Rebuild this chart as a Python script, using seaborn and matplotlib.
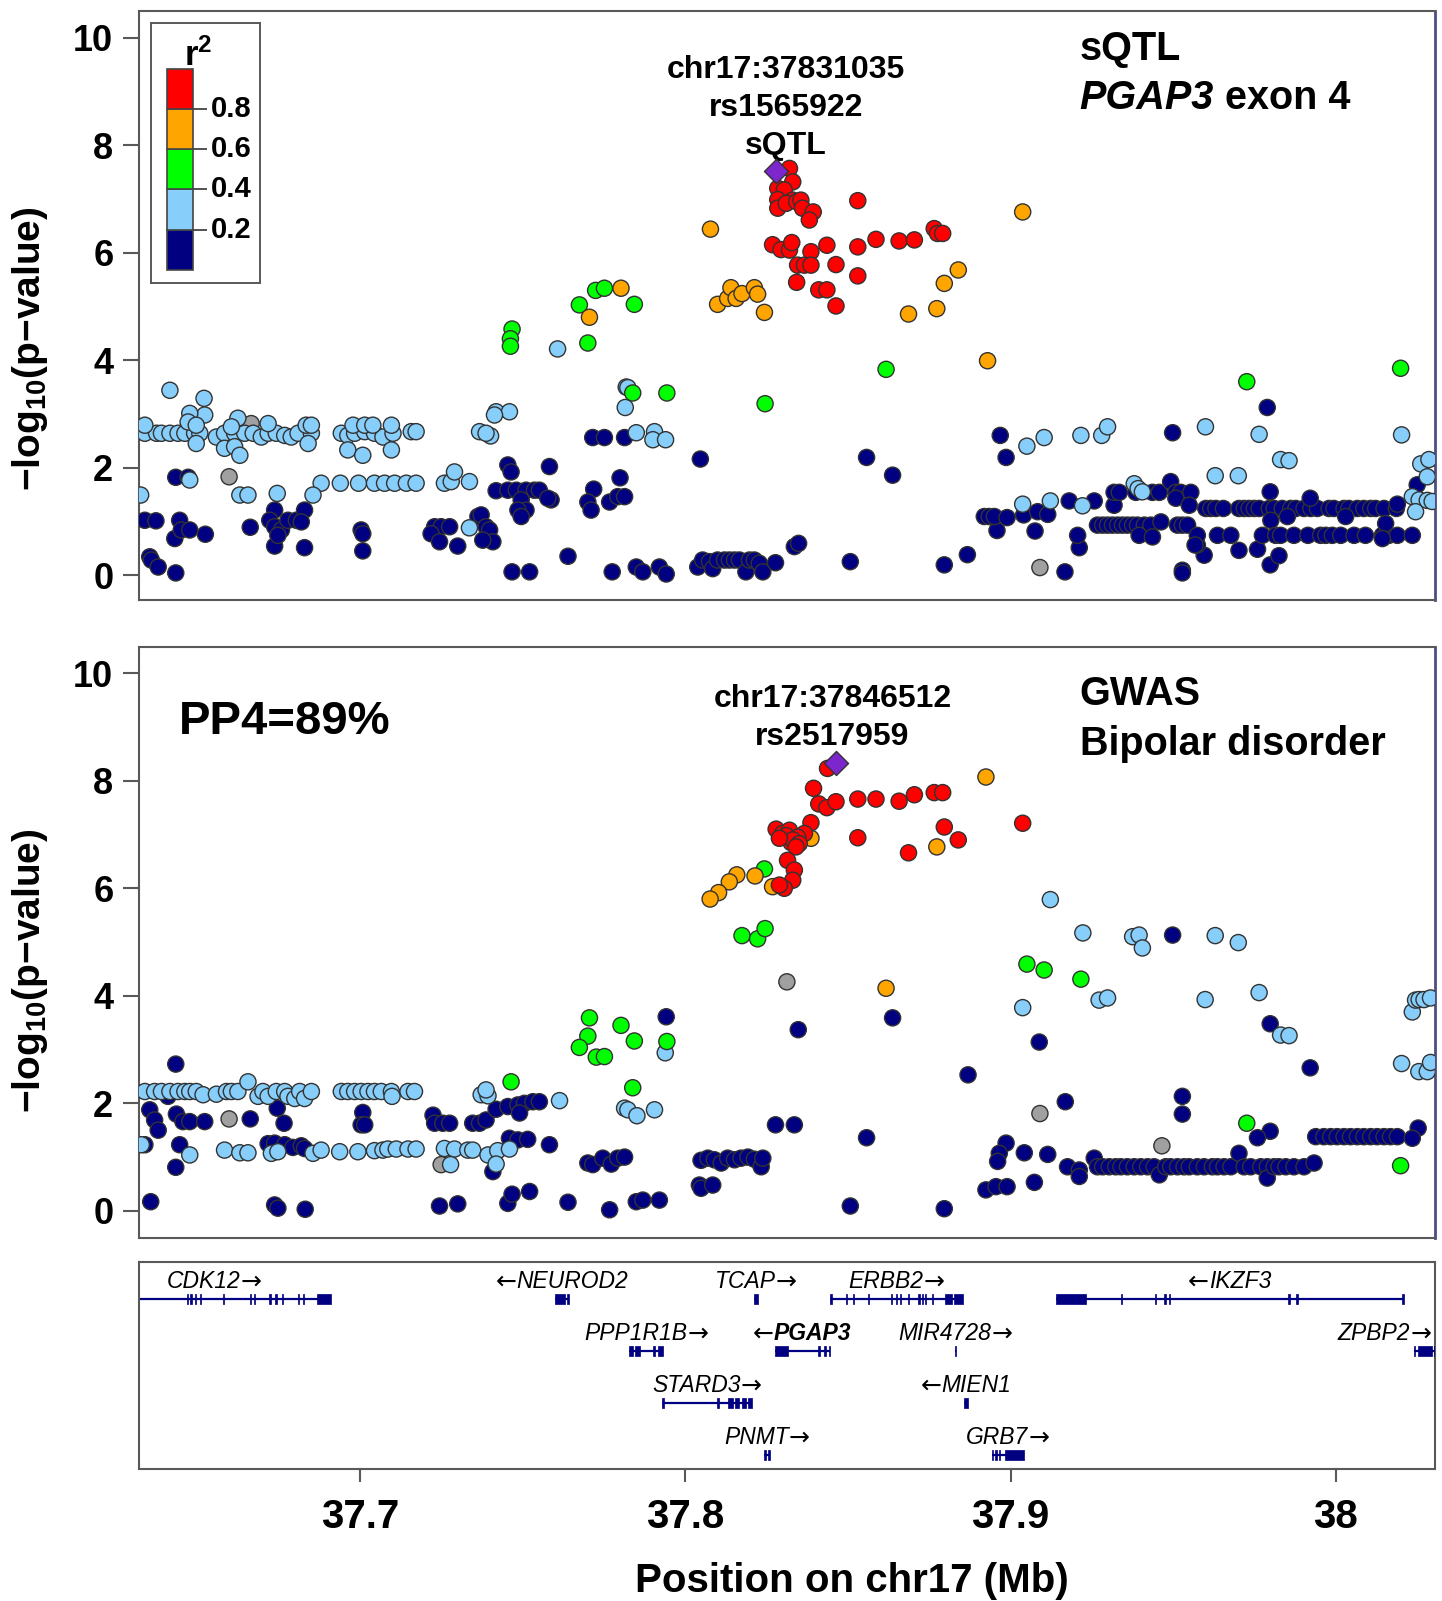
import matplotlib
matplotlib.use("Agg")
import matplotlib.pyplot as plt
from matplotlib.transforms import Bbox
import seaborn as sns
import pandas as pd

# LD classes and colours (LocusZoom style)
ld_classes = ["NA", "0.0-0.2", "0.2-0.4", "0.4-0.6", "0.6-0.8", "0.8-1.0"]
ld_colors = ["#A0A0A0", "#000080", "#87CEFA", "#00FF00", "#FFA500", "#FF0000"]
r2_edges = [0.0, 0.2, 0.4, 0.6, 0.8, 1.0]

# ---------------- sQTL panel (position Mb, -log10 p) ----------------
sqtl_gray = [(37.6665, 2.82), (37.6597, 1.83), (37.9090, 0.14)]

sqtl_navy = [
    (37.6433, 1.82), (37.6471, 1.82), (37.6338, 1.02), (37.6372, 1.01), (37.6445, 1.02), (37.6430, 0.68),
    (37.6450, 0.84), (37.6476, 0.84), (37.6524, 0.76), (37.6353, 0.34), (37.6358, 0.28), (37.6379, 0.15),
    (37.6433, 0.04), (37.6662, 0.89), (37.6737, 1.21), (37.6722, 1.02), (37.6737, 0.90), (37.6758, 0.84),
    (37.6778, 1.02), (37.6804, 1.02), (37.6829, 1.21), (37.6819, 0.99), (37.6737, 0.54), (37.6829, 0.51),
    (37.6747, 0.74), (37.7003, 0.84), (37.7008, 0.77), (37.7008, 0.45), (37.7229, 0.90), (37.7249, 0.90),
    (37.7275, 0.90), (37.7218, 0.77), (37.7244, 0.62), (37.7300, 0.54), (37.7362, 1.09), (37.7372, 1.12),
    (37.7387, 0.90), (37.7398, 0.84), (37.7408, 0.62), (37.7377, 0.65), (37.7454, 2.05), (37.7464, 1.92),
    (37.7582, 2.02), (37.7418, 1.57), (37.7454, 1.58), (37.7480, 1.58), (37.7510, 1.58), (37.7536, 1.58),
    (37.7551, 1.58), (37.7587, 1.40), (37.7577, 1.43), (37.7495, 1.40), (37.7510, 1.21), (37.7485, 1.21),
    (37.7495, 1.09), (37.7467, 0.06), (37.7521, 0.06),
    (37.7715, 2.56), (37.7751, 2.56), (37.7813, 2.56), (37.8046, 2.16), (37.8557, 2.19), (37.8637, 1.86),
    (37.7799, 1.81), (37.7718, 1.60), (37.7700, 1.36), (37.7710, 1.21), (37.7767, 1.36), (37.7792, 1.46),
    (37.7813, 1.46), (37.7639, 0.35), (37.7775, 0.06), (37.7849, 0.15), (37.7869, 0.06), (37.7920, 0.15),
    (37.7941, 0.02), (37.8038, 0.15), (37.8053, 0.28), (37.8074, 0.25), (37.8084, 0.12), (37.8099, 0.28),
    (37.8120, 0.28), (37.8135, 0.28), (37.8151, 0.28), (37.8166, 0.28), (37.8186, 0.06), (37.8197, 0.28),
    (37.8212, 0.28), (37.8227, 0.22), (37.8238, 0.06), (37.8277, 0.23), (37.8335, 0.53), (37.8348, 0.59),
    (37.8507, 0.25), (37.8796, 0.19), (37.8867, 0.38),
    (37.8968, 2.60), (37.8986, 2.19), (37.9789, 3.12), (37.9498, 2.65), (37.9167, 0.06), (37.9528, 0.09),
    (37.9528, 0.04), (37.9798, 0.19), (37.9825, 0.36), (37.9702, 0.46), (37.9759, 0.48), (37.9595, 0.37),
    (37.9574, 0.56), (37.9211, 0.51), (37.9206, 0.74), (37.9075, 0.82), (37.8958, 0.83),
    (37.8919, 1.09), (37.8934, 1.09), (37.8950, 1.09), (37.8989, 1.07), (37.9040, 1.12), (37.9083, 1.18),
    (37.9114, 1.13), (37.9180, 1.38), (37.9257, 1.38), (37.9318, 1.30),
    (37.9318, 1.54), (37.9334, 1.54), (37.9385, 1.54), (37.9436, 1.54), (37.9457, 1.54), (37.9492, 1.74),
    (37.9508, 1.54), (37.9523, 1.54), (37.9554, 1.54), (37.9508, 1.43), (37.9549, 1.30),
    (37.9267, 0.93), (37.9283, 0.93), (37.9298, 0.93), (37.9313, 0.93), (37.9329, 0.93), (37.9344, 0.93),
    (37.9359, 0.93), (37.9375, 0.93), (37.9390, 0.93), (37.9411, 0.93), (37.9431, 0.93), (37.9462, 0.99),
    (37.9513, 0.93), (37.9528, 0.93), (37.9544, 0.93), (37.9395, 0.74), (37.9436, 0.71), (37.9574, 0.74),
    (37.9567, 0.56),
    (37.9600, 1.24), (37.9615, 1.24), (37.9631, 1.24), (37.9654, 1.24), (37.9702, 1.24), (37.9718, 1.24),
    (37.9733, 1.24), (37.9749, 1.24), (37.9764, 1.24), (37.9795, 1.24), (37.9810, 1.24), (37.9835, 1.24),
    (37.9861, 1.24), (37.9877, 1.24), (37.9902, 1.24), (37.9923, 1.24), (37.9943, 1.24), (37.9979, 1.24),
    (37.9994, 1.24), (38.0025, 1.24), (38.0040, 1.24), (38.0066, 1.24), (38.0086, 1.24), (38.0107, 1.24),
    (38.0122, 1.24), (38.0148, 1.24), (38.0186, 1.24), (37.9798, 1.55), (37.9921, 1.43), (37.9851, 1.09),
    (38.0030, 1.09), (37.9800, 1.02), (38.0189, 1.32), (38.0250, 1.68),
    (37.9636, 0.74), (37.9677, 0.74), (37.9774, 0.74), (37.9815, 0.74), (37.9830, 0.74), (37.9871, 0.74),
    (37.9914, 0.74), (37.9953, 0.74), (37.9969, 0.74), (37.9989, 0.74), (38.0015, 0.74), (38.0056, 0.74),
    (38.0091, 0.74), (38.0143, 0.74), (38.0163, 0.74), (38.0189, 0.74), (38.0235, 0.74), (38.0153, 0.96),
    (38.0143, 0.68),
]

sqtl_lightblue = [
    (37.6338, 2.64), (37.6374, 2.64), (37.6389, 2.64), (37.6415, 2.64), (37.6440, 2.64), (37.6461, 2.64),
    (37.6491, 2.64), (37.6507, 2.64), (37.6558, 2.57), (37.6583, 2.64), (37.6614, 2.64), (37.6645, 2.64),
    (37.6671, 2.64), (37.6696, 2.57), (37.6717, 2.64), (37.6742, 2.64), (37.6768, 2.60), (37.6788, 2.57),
    (37.6809, 2.64), (37.6850, 2.64), (37.6942, 2.64), (37.6962, 2.60), (37.6983, 2.64), (37.7014, 2.67),
    (37.7044, 2.64), (37.7070, 2.57), (37.7101, 2.64), (37.7157, 2.67), (37.7172, 2.67),
    (37.6338, 2.79), (37.6415, 3.44), (37.6520, 3.29), (37.6522, 2.98), (37.6476, 3.01), (37.6471, 2.85),
    (37.6496, 2.79), (37.6624, 2.92), (37.6604, 2.76), (37.6717, 2.82), (37.6834, 2.79), (37.6850, 2.79),
    (37.6978, 2.79), (37.7014, 2.79), (37.7039, 2.79), (37.7096, 2.79),
    (37.6496, 2.45), (37.6583, 2.36), (37.6614, 2.39), (37.6630, 2.23), (37.6840, 2.45), (37.6962, 2.33),
    (37.7008, 2.23), (37.7096, 2.33),
    (37.6880, 1.71), (37.6939, 1.71), (37.6995, 1.71), (37.7044, 1.71), (37.7075, 1.71), (37.7106, 1.71),
    (37.7142, 1.71), (37.7172, 1.71), (37.7259, 1.71), (37.7280, 1.74), (37.7290, 1.92), (37.7336, 1.74),
    (37.6855, 1.49), (37.6745, 1.52), (37.6630, 1.49), (37.6655, 1.49), (37.6325, 1.49), (37.6476, 1.77),
    (37.7336, 0.88), (37.7607, 4.21), (37.7418, 3.04), (37.7459, 3.04), (37.7413, 2.98), (37.7367, 2.67),
    (37.7401, 2.59), (37.7387, 2.64),
    (37.7818, 3.50), (37.7823, 3.49), (37.7815, 3.12), (37.7849, 2.65), (37.7905, 2.67), (37.7900, 2.52),
    (37.7939, 2.52),
    (37.9050, 2.40), (37.9103, 2.56), (37.9216, 2.60), (37.9280, 2.60), (37.9298, 2.76), (37.9599, 2.76),
    (37.9764, 2.62), (38.0202, 2.61), (37.9830, 2.15), (37.9856, 2.13), (37.9629, 1.85), (37.9700, 1.85),
    (37.9380, 1.70), (37.9392, 1.61), (37.9405, 1.55), (37.9037, 1.32), (37.9122, 1.38), (37.9221, 1.29),
    (38.0261, 2.07), (38.0286, 2.15), (38.0281, 1.83), (38.0235, 1.46), (38.0256, 1.40), (38.0281, 1.39),
    (38.0245, 1.18), (38.0296, 1.37),
]

sqtl_green = [
    (37.7467, 4.58), (37.7462, 4.40), (37.7462, 4.26), (37.7674, 5.03), (37.7724, 5.30), (37.7751, 5.34),
    (37.7843, 5.04), (37.7700, 4.32), (37.7838, 3.39), (37.7943, 3.39), (37.8245, 3.19), (37.8617, 3.83),
    (37.9726, 3.60), (38.0199, 3.85),
]

sqtl_orange = [
    (37.8077, 6.44), (37.8099, 5.04), (37.8130, 5.15), (37.8140, 5.35), (37.8156, 5.15), (37.8174, 5.24),
    (37.8212, 5.35), (37.8222, 5.23), (37.8243, 4.89), (37.8686, 4.86), (37.8773, 4.96), (37.8796, 5.43),
    (37.8839, 5.68), (37.8929, 3.99), (37.7802, 5.34), (37.7705, 4.80), (37.9037, 6.76),
]

sqtl_red = [
    (37.8320, 7.57), (37.8330, 7.32), (37.8284, 7.20), (37.8304, 7.17), (37.8284, 6.99), (37.8284, 6.83),
    (37.8330, 6.98), (37.8310, 6.92), (37.8342, 6.95), (37.8355, 6.98), (37.8360, 6.83), (37.8393, 6.76),
    (37.8381, 6.61), (37.8530, 6.97),
    (37.8268, 6.15), (37.8294, 6.06), (37.8320, 6.05), (37.8327, 6.19), (37.8386, 6.02), (37.8435, 6.14),
    (37.8530, 6.11), (37.8586, 6.25), (37.8657, 6.22), (37.8704, 6.24), (37.8765, 6.45), (37.8775, 6.36),
    (37.8791, 6.36), (37.8345, 5.77), (37.8366, 5.77), (37.8386, 5.77), (37.8463, 5.78), (37.8342, 5.45),
    (37.8530, 5.57), (37.8410, 5.31), (37.8435, 5.31), (37.8463, 5.01),
]

sqtl_lead_pos, sqtl_lead_logp = 37.8279, 7.53

# ---------------- GWAS panel ----------------
gwas_gray = [(37.6597, 1.71), (37.7249, 0.86), (37.8312, 4.26), (37.9090, 1.81), (37.9465, 1.21)]

gwas_navy = [
    (37.6433, 2.73), (37.6409, 2.13), (37.6353, 1.88), (37.6368, 1.69), (37.6379, 1.50), (37.6435, 1.80),
    (37.6455, 1.66), (37.6476, 1.66), (37.6522, 1.66), (37.6662, 1.71), (37.6745, 1.91), (37.6766, 1.63),
    (37.7008, 1.83), (37.7003, 1.60), (37.7014, 1.60), (37.7224, 1.78), (37.7229, 1.63), (37.7254, 1.63),
    (37.7275, 1.63), (37.7346, 1.63), (37.7367, 1.63), (37.7387, 1.69), (37.7418, 1.89), (37.7454, 1.94),
    (37.7485, 1.97), (37.7505, 2.00), (37.7531, 2.03), (37.7551, 2.03), (37.7490, 1.82),
    (37.6338, 1.23), (37.6445, 1.23), (37.6717, 1.25), (37.6737, 1.26), (37.6768, 1.23), (37.6793, 1.18),
    (37.6819, 1.21), (37.6829, 1.16), (37.7459, 1.35), (37.7485, 1.32), (37.7515, 1.33), (37.7582, 1.23),
    (37.6433, 0.81), (37.7408, 0.73), (37.6356, 0.17), (37.6737, 0.11), (37.6747, 0.05), (37.6831, 0.03),
    (37.7244, 0.09), (37.7300, 0.13), (37.7454, 0.14), (37.7467, 0.31), (37.7521, 0.36),
    (37.7941, 3.61), (37.8347, 3.37), (37.8637, 3.59), (37.8869, 2.53), (37.8277, 1.60), (37.8335, 1.60),
    (37.8557, 1.36), (37.7700, 0.89), (37.7715, 0.86), (37.7746, 0.98), (37.7772, 0.87), (37.7792, 0.98),
    (37.7813, 1.00), (37.8048, 0.94), (37.8069, 0.98), (37.8089, 0.95), (37.8110, 0.89), (37.8130, 0.98),
    (37.8151, 0.95), (37.8171, 0.98), (37.8192, 1.00), (37.8212, 0.96), (37.8233, 0.82), (37.8238, 0.98),
    (37.8043, 0.48), (37.8048, 0.42), (37.8084, 0.48), (37.7639, 0.16), (37.7767, 0.02), (37.7849, 0.17),
    (37.7869, 0.20), (37.7920, 0.20), (37.8507, 0.09), (37.8796, 0.04), (37.8924, 0.39),
    (37.9498, 5.13), (37.9088, 3.14), (37.9798, 3.48), (37.9921, 2.66), (37.9168, 2.03), (37.9528, 2.13),
    (37.9528, 1.80), (37.9798, 1.48), (37.9759, 1.36), (38.0253, 1.54), (37.8986, 1.26), (37.8965, 1.07),
    (37.8960, 0.92), (37.9042, 1.08), (37.9114, 1.05), (37.9073, 0.53), (37.8955, 0.45), (37.8989, 0.45),
    (37.9175, 0.82), (37.9211, 0.76), (37.9211, 0.64), (37.9257, 0.98), (37.9267, 0.82), (37.9283, 0.82),
    (37.9303, 0.82), (37.9323, 0.82), (37.9339, 0.82), (37.9359, 0.82), (37.9380, 0.82), (37.9400, 0.82),
    (37.9421, 0.82), (37.9441, 0.82), (37.9457, 0.67), (37.9477, 0.82), (37.9492, 0.82), (37.9513, 0.82),
    (37.9533, 0.82), (37.9549, 0.82), (37.9574, 0.82), (37.9595, 0.82), (37.9620, 0.82), (37.9636, 0.82),
    (37.9656, 0.82), (37.9677, 0.82), (37.9702, 1.07), (37.9718, 0.82), (37.9738, 0.82), (37.9769, 0.82),
    (37.9789, 0.82), (37.9789, 0.61), (37.9810, 0.82), (37.9825, 0.82), (37.9846, 0.82), (37.9871, 0.82),
    (37.9902, 0.82), (37.9933, 0.89),
    (37.9938, 1.38), (37.9963, 1.38), (37.9984, 1.38), (38.0004, 1.38), (38.0025, 1.38), (38.0045, 1.38),
    (38.0066, 1.38), (38.0086, 1.38), (38.0107, 1.38), (38.0127, 1.38), (38.0148, 1.38), (38.0168, 1.38),
    (38.0189, 1.38), (38.0235, 1.35),
]

gwas_lightblue = [
    (37.6338, 2.22), (37.6368, 2.22), (37.6389, 2.22), (37.6415, 2.22), (37.6440, 2.22), (37.6461, 2.22),
    (37.6476, 2.22), (37.6496, 2.22), (37.6517, 2.16), (37.6558, 2.17), (37.6589, 2.22), (37.6604, 2.22),
    (37.6624, 2.22), (37.6655, 2.40), (37.6686, 2.13), (37.6701, 2.22), (37.6717, 2.13), (37.6742, 2.22),
    (37.6768, 2.22), (37.6778, 2.13), (37.6799, 2.09), (37.6814, 2.22), (37.6829, 2.09), (37.6850, 2.22),
    (37.6942, 2.22), (37.6962, 2.22), (37.6983, 2.22), (37.7003, 2.22), (37.7024, 2.22), (37.7044, 2.22),
    (37.7065, 2.22), (37.7096, 2.22), (37.7098, 2.13), (37.7147, 2.22), (37.7167, 2.22), (37.7372, 2.16),
    (37.7393, 2.14), (37.7387, 2.25), (37.7613, 2.05),
    (37.6327, 1.23), (37.6476, 1.04), (37.6583, 1.13), (37.6630, 1.08), (37.6655, 1.08), (37.6727, 1.07),
    (37.6747, 1.10), (37.6855, 1.07), (37.6880, 1.13), (37.6937, 1.10), (37.6993, 1.10), (37.7044, 1.12),
    (37.7070, 1.13), (37.7085, 1.15), (37.7111, 1.15), (37.7147, 1.15), (37.7172, 1.15), (37.7259, 1.16),
    (37.7290, 1.15), (37.7331, 1.13), (37.7346, 1.13), (37.7393, 1.04), (37.7423, 1.12), (37.7459, 1.15),
    (37.7278, 0.86), (37.7418, 0.87),
    (37.7938, 2.94), (37.7813, 1.91), (37.7823, 1.88), (37.7851, 1.77), (37.7905, 1.88),
    (37.9122, 5.79), (37.9222, 5.17), (37.9375, 5.10), (37.9395, 5.13), (37.9405, 4.89), (37.9629, 5.12),
    (37.9700, 4.99), (37.9037, 3.78), (37.9272, 3.92), (37.9298, 3.96), (37.9598, 3.93), (37.9764, 4.06),
    (37.9830, 3.27), (37.9856, 3.26), (38.0235, 3.70), (38.0245, 3.92), (38.0256, 3.93), (38.0271, 3.93),
    (38.0291, 3.96), (38.0202, 2.74), (38.0255, 2.59), (38.0281, 2.59), (38.0291, 2.76),
]

gwas_green = [
    (37.7464, 2.40), (37.8243, 6.36), (37.8174, 5.12), (37.8222, 5.06), (37.8245, 5.25), (37.7705, 3.59),
    (37.7700, 3.25), (37.7674, 3.04), (37.7726, 2.86), (37.7751, 2.87), (37.7802, 3.45), (37.7843, 3.16),
    (37.7943, 3.15), (37.7838, 2.29), (37.9050, 4.59), (37.9103, 4.48), (37.9216, 4.31), (37.9726, 1.63),
    (38.0199, 0.84),
]

gwas_orange = [
    (37.8924, 8.07), (37.8773, 6.77), (37.8617, 4.14), (37.8386, 6.93), (37.8268, 6.03), (37.8214, 6.23),
    (37.8158, 6.25), (37.8135, 6.12), (37.8102, 5.92), (37.8076, 5.80),
]

gwas_red = [
    (37.8437, 8.23), (37.8394, 7.86), (37.8410, 7.57), (37.8435, 7.50), (37.8463, 7.61), (37.8530, 7.66),
    (37.8586, 7.66), (37.8657, 7.62), (37.8704, 7.74), (37.8765, 7.78), (37.8791, 7.78), (37.8796, 7.14),
    (37.8839, 6.90), (37.8530, 6.94), (37.8686, 6.66), (37.8386, 7.22), (37.8366, 7.02), (37.8279, 7.10),
    (37.8299, 7.02), (37.8320, 7.08), (37.8310, 6.98), (37.8325, 6.85), (37.8345, 6.95), (37.8330, 6.90),
    (37.8350, 6.83), (37.8340, 6.77), (37.8289, 6.93), (37.8314, 6.52), (37.8335, 6.34), (37.8330, 6.15),
    (37.8304, 6.00), (37.8289, 6.06), (37.9037, 7.21),
]

gwas_lead_pos, gwas_lead_logp = 37.8463, 8.33

# ---------------- genes ----------------
gene_names = ["CDK12", "NEUROD2", "TCAP", "ERBB2", "IKZF3", "PPP1R1B", "PGAP3", "MIR4728", "ZPBP2",
              "STARD3", "MIEN1", "PNMT", "GRB7"]
gene_start = [37.6190, 37.7599, 37.8211, 37.8446, 37.9138, 37.7828, 37.8274, 37.8828, 38.0240,
              37.7929, 37.8856, 37.8241, 37.8942]
gene_end = [37.6910, 37.7641, 37.8223, 37.8853, 38.0208, 37.7930, 37.8445, 37.8831, 38.0350,
            37.8204, 37.8870, 37.8261, 37.9040]
gene_strand = ["+", "-", "+", "+", "-", "+", "-", "+", "+", "+", "-", "+", "+"]
gene_row = [0, 0, 0, 0, 0, 1, 1, 1, 1, 2, 2, 3, 3]
gene_exons = [
    [(37.6467, 37.6471), (37.6478, 37.6482), (37.6492, 37.6496), (37.6506, 37.6510), (37.6577, 37.6581),
     (37.6660, 37.6664), (37.6674, 37.6678), (37.6721, 37.6725), (37.6739, 37.6743), (37.6760, 37.6764),
     (37.6809, 37.6813), (37.6823, 37.6827), (37.6868, 37.6910)],
    [(37.7599, 37.7630), (37.7635, 37.7641)],
    [(37.8211, 37.8223)],
    [(37.8446, 37.8450), (37.8494, 37.8498), (37.8515, 37.8519), (37.8560, 37.8564), (37.8632, 37.8636),
     (37.8646, 37.8650), (37.8660, 37.8664), (37.8684, 37.8688), (37.8716, 37.8721), (37.8727, 37.8731),
     (37.8737, 37.8741), (37.8758, 37.8762), (37.8797, 37.8821), (37.8826, 37.8853)],
    [(37.9138, 37.9233), (37.9338, 37.9342), (37.9443, 37.9447), (37.9473, 37.9477), (37.9487, 37.9491),
     (37.9854, 37.9858), (37.9878, 37.9882), (38.0204, 38.0208)],
    [(37.7828, 37.7839), (37.7846, 37.7861), (37.7899, 37.7907), (37.7915, 37.7930)],
    [(37.8274, 37.8315), (37.8409, 37.8413), (37.8427, 37.8431), (37.8441, 37.8445)],
    [(37.8828, 37.8831)],
    [(38.0240, 38.0244), (38.0254, 38.0297), (38.0302, 38.0350)],
    [(37.7929, 37.7933), (37.8098, 37.8102), (37.8131, 37.8145), (37.8152, 37.8166), (37.8173, 37.8187),
     (37.8191, 37.8204)],
    [(37.8856, 37.8870)],
    [(37.8241, 37.8248), (37.8253, 37.8261)],
    [(37.8942, 37.8946), (37.8953, 37.8957), (37.8964, 37.8968), (37.8983, 37.9040)],
]

x_ticks = [37.7, 37.8, 37.9, 38.0]
x_ticklabels = ["37.7", "37.8", "37.9", "38"]
y_ticks = [0, 2, 4, 6, 8, 10]


def make_df(groups):
    rows = []
    for cls, pts in groups:
        for p, v in pts:
            rows.append((p, v, cls))
    return pd.DataFrame(rows, columns=["pos", "logp", "ld"])


sns.set_style("white")
plt.rcParams["font.family"] = ["Liberation Sans", "DejaVu Sans"]
plt.rcParams["mathtext.default"] = "regular"
plt.rcParams["text.color"] = "black"
plt.rcParams["axes.labelcolor"] = "black"
plt.rcParams["xtick.color"] = "black"
plt.rcParams["ytick.color"] = "black"

EDGE = "#595959"
NAVY = "#000080"
XLIM = (37.632, 38.0305)

fig = plt.figure(figsize=(14.42, 16.01), dpi=100)
ax1 = fig.add_axes([0.0964, 0.6252, 0.8988, 0.3679])
ax2 = fig.add_axes([0.0964, 0.2269, 0.8988, 0.3687])
axg = fig.add_axes([0.0964, 0.0824, 0.8988, 0.1293])

panels = [
    (ax1, [("NA", sqtl_gray), ("0.0-0.2", sqtl_navy), ("0.2-0.4", sqtl_lightblue), ("0.4-0.6", sqtl_green),
           ("0.6-0.8", sqtl_orange), ("0.8-1.0", sqtl_red)], (sqtl_lead_pos, sqtl_lead_logp), (-0.465, 10.5), 0.426),
    (ax2, [("NA", gwas_gray), ("0.0-0.2", gwas_navy), ("0.2-0.4", gwas_lightblue), ("0.4-0.6", gwas_green),
           ("0.6-0.8", gwas_orange), ("0.8-1.0", gwas_red)], (gwas_lead_pos, gwas_lead_logp), (-0.5, 10.48), 0.452),
]

for ax, groups, lead, ylim, ylab_y in panels:
    df = make_df(groups)
    sns.scatterplot(data=df, x="pos", y="logp", hue="ld", hue_order=ld_classes, palette=ld_colors,
                    s=135, edgecolor="#333333", linewidth=1.0, legend=False, ax=ax, zorder=3)
    ax.scatter([lead[0]], [lead[1]], marker="D", s=150, color="#7D26CD", edgecolor="#333333",
               linewidth=1.0, zorder=4)
    ax.set_xlim(*XLIM)
    ax.set_ylim(*ylim)
    ax.set_xticks([])
    ax.set_xlabel("")
    ax.set_yticks(y_ticks)
    ax.set_yticklabels([str(t) for t in y_ticks], fontsize=26, fontweight="bold")
    ax.tick_params(axis="y", length=11.5, width=1.5, color=EDGE, labelcolor="black", pad=7, left=True)
    for sp in ax.spines.values():
        sp.set_color(EDGE)
        sp.set_linewidth(1.5)
    ax.spines["right"].set_color("#4d4d80")
    ax.spines["right"].set_linewidth(2.0)
    ax.set_ylabel("\u2212log$_{10}$(p\u2212value)", fontsize=28, fontweight="bold")
    ax.yaxis.set_label_coords(-0.0683, ylab_y)

# ---- panel texts ----
for y, s in zip([9.26, 8.54, 7.84], ["chr17:37831035", "rs1565922", "sQTL"]):
    ax1.text(37.8308, y, s, ha="center", va="baseline", fontsize=23, fontweight="bold")
ax1.text(37.9212, 9.58, "sQTL", ha="left", va="baseline", fontsize=28.5, fontweight="bold")
t1 = ax1.text(37.9212, 8.675, "PGAP3", ha="left", va="baseline", fontsize=28.5, fontweight="bold",
              style="italic")
ax1.annotate(" exon 4", xy=(1, 0), xycoords=t1, ha="left", va="bottom", fontsize=28.5, fontweight="bold")

for y, s in zip([9.37, 8.67], ["chr17:37846512", "rs2517959"]):
    ax2.text(37.8452, y, s, ha="center", va="baseline", fontsize=23, fontweight="bold")
ax2.text(37.9212, 9.41, "GWAS", ha="left", va="baseline", fontsize=28.5, fontweight="bold")
ax2.text(37.9212, 8.48, "Bipolar disorder", ha="left", va="baseline", fontsize=28.5, fontweight="bold")
ax2.text(37.6442, 8.87, "PP4=89%", ha="left", va="baseline", fontsize=34, fontweight="bold")

# ---- r2 legend ----
lax = ax1.inset_axes([0.0096, 0.5377, 0.084, 0.4414])
lax.set_xlim(0, 1)
lax.set_ylim(-0.068, 1.227)
lax.bar(x=0.262, height=[b - a for a, b in zip(r2_edges[:-1], r2_edges[1:])], width=0.244,
        bottom=r2_edges[:-1], color=ld_colors[1:], edgecolor="#444444", linewidth=1.2, align="center")
lax.hlines(r2_edges[1:-1], 0.384, 0.506, color="#444444", linewidth=1.3)
for e in r2_edges[1:-1]:
    lax.text(0.55, e, f"{e:.1f}", ha="left", va="center", fontsize=21, fontweight="bold")
lax.text(0.43, 1.014, "r$^{2}$", ha="center", va="baseline", fontsize=25, fontweight="bold")
lax.set_xticks([])
lax.set_yticks([])
lax.set_facecolor("white")
for sp in lax.spines.values():
    sp.set_color(EDGE)
    sp.set_linewidth(1.4)

# ---- gene track ----
axg.set_xlim(*XLIM)
axg.set_ylim(3.27, -0.71)
exon_h = 0.18
labels = []
for name, a, b, strand, row, exons in zip(gene_names, gene_start, gene_end, gene_strand, gene_row, gene_exons):
    axg.plot([a, b], [row, row], color=NAVY, linewidth=1.6, solid_capstyle="butt", zorder=2)
    axg.broken_barh([(s, max(e - s, 0.0003)) for s, e in exons], (row - exon_h / 2, exon_h),
                    facecolors=NAVY, edgecolors=NAVY, linewidth=0.5, zorder=3)
    t = axg.text((a + b) / 2, row - 0.34, name, ha="center", va="center", fontsize=16.5, style="italic",
                 fontweight="bold" if name == "PGAP3" else "normal")
    if strand == "+":
        arr = axg.annotate("\u2192", xy=(1, 0.5), xycoords=t, ha="left", va="center",
                           fontsize=18, family="DejaVu Sans")
    else:
        arr = axg.annotate("\u2190", xy=(0, 0.5), xycoords=t, ha="right", va="center",
                           fontsize=18, family="DejaVu Sans")
    labels.append((t, arr, (a + b) / 2))

axg.set_yticks([])
axg.set_xticks(x_ticks)
axg.set_xticklabels(x_ticklabels, fontsize=29, fontweight="bold")
axg.tick_params(axis="x", length=9, width=1.5, color=EDGE, labelcolor="black", pad=12, bottom=True)
for sp in axg.spines.values():
    sp.set_color(EDGE)
    sp.set_linewidth(1.5)
axg.set_xlabel("Position on chr17 (Mb)", fontsize=29, fontweight="bold")
axg.xaxis.set_label_coords(0.55, -0.449)

# centre each label (name + arrow) on its gene and keep it inside the track box
fig.canvas.draw()
abox = axg.get_window_extent()
for t, arr, cx in labels:
    bb = Bbox.union([t.get_window_extent(), arr.get_window_extent()])
    want = axg.transData.transform((cx, 0))[0]
    shift = want - (bb.x0 + bb.x1) / 2
    if bb.x1 + shift > abox.x1 - 4:
        shift = (abox.x1 - 4) - bb.x1
    elif bb.x0 + shift < abox.x0 + 4:
        shift = (abox.x0 + 4) - bb.x0
    px, py = t.get_position()
    pix = axg.transData.transform((px, py))
    newx = axg.transData.inverted().transform((pix[0] + shift, pix[1]))[0]
    t.set_position((newx, py))

fig.savefig("out.png", dpi=100)
